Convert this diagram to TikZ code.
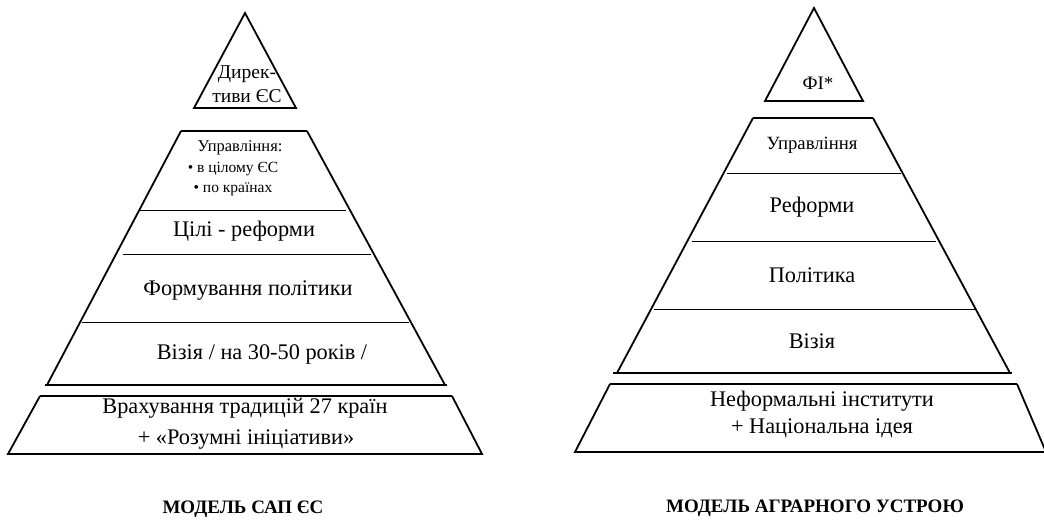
\documentclass[tikz,border=0pt]{standalone}
\usepackage{fontspec}
\setmainfont{Liberation Serif}
\begin{document}
\begin{tikzpicture}[x=1pt,y=-1pt,
  side/.style={line width=1.8pt, line join=miter},
  divider/.style={line width=0.9pt},
  edge/.style={line width=2.4pt},
  big/.style={font=\fontsize{22.3}{26}\selectfont, inner sep=0pt},
  mid/.style={font=\fontsize{18.7}{22}\selectfont, inner sep=0pt},
  midl/.style={font=\fontsize{16.5}{19}\selectfont, inner sep=0pt},
  small/.style={font=\fontsize{15.5}{18}\selectfont, inner sep=0pt},
  ttl/.style={font=\fontsize{19}{22}\selectfont\bfseries, inner sep=0pt}]
\useasboundingbox (0,0) rectangle (1044,521);

% ---------- left pyramid ----------
\draw[side] (245,13) -- (296,108) -- (194,108) -- cycle;
\draw[side] (181,131) -- (47,385);
\draw[side] (307,131) -- (445,385);
\draw[edge] (181,131) -- (307,131);
\draw[edge] (45,385) -- (447,385);
\draw[divider] (140,210) -- (346,210);
\draw[divider] (123,254) -- (371,254);
\draw[divider] (82,322) -- (409,322);
\draw[side] (40,396) -- (8,454) -- (482,454) -- (452,396);
\draw[edge] (40,396) -- (452,396);

\node[font=\fontsize{19.5}{24}\selectfont, inner sep=0pt, align=center] (dir) at (247,84) {Дирек-\\тиви ЄС};
\node[midl] (upr) at (240,148) {Управління:};
\node[small] (b1) at (233,169) {• в цілому ЄС};
\node[small] (b2) at (233,189) {• по країнах};
\node[big] (cil) at (244,231) {Цілі - реформи};
\node[big] (form) at (248,291) {Формування політики};
\node[big] (viz) at (262,354) {Візія / на 30-50 років /};
\node[big] (vr1) at (245,408) {Врахування традицій 27 країн};
\node[big] (vr2) at (246,440) {+ «Розумні ініціативи»};
\node[ttl] (t1) at (243,509) {МОДЕЛЬ САП ЄС};

% ---------- right pyramid ----------
\draw[side] (814,8) -- (863,101) -- (765,101) -- cycle;
\draw[side] (753,118) -- (617,373);
\draw[side] (873,118) -- (1010,373);
\draw[edge] (753,118) -- (873,118);
\draw[edge] (613,373) -- (1012,373);
\draw[divider] (727,173) -- (901,173);
\draw[divider] (692,241) -- (936,241);
\draw[divider] (654,309) -- (977,309);
\draw[side] (610,384) -- (575,452) -- (1046,452) -- (1017,384);
\draw[edge] (610,384) -- (1017,384);

\node[font=\fontsize{19}{22}\selectfont, inner sep=0pt] (fi) at (818,83) {ФІ*};
\node[mid] (upr2) at (812,145) {Управління};
\node[big] (ref) at (812,207) {Реформи};
\node[big] (pol) at (812,275) {Політика};
\node[big] (viz2) at (812,341) {Візія};
\node[big] (nef1) at (822,401) {Неформальні інститути};
\node[big] (nef2) at (822,428) {+ Національна ідея};
\node[ttl] (t2) at (815,508) {МОДЕЛЬ АГРАРНОГО УСТРОЮ};
\end{tikzpicture}
\end{document}
